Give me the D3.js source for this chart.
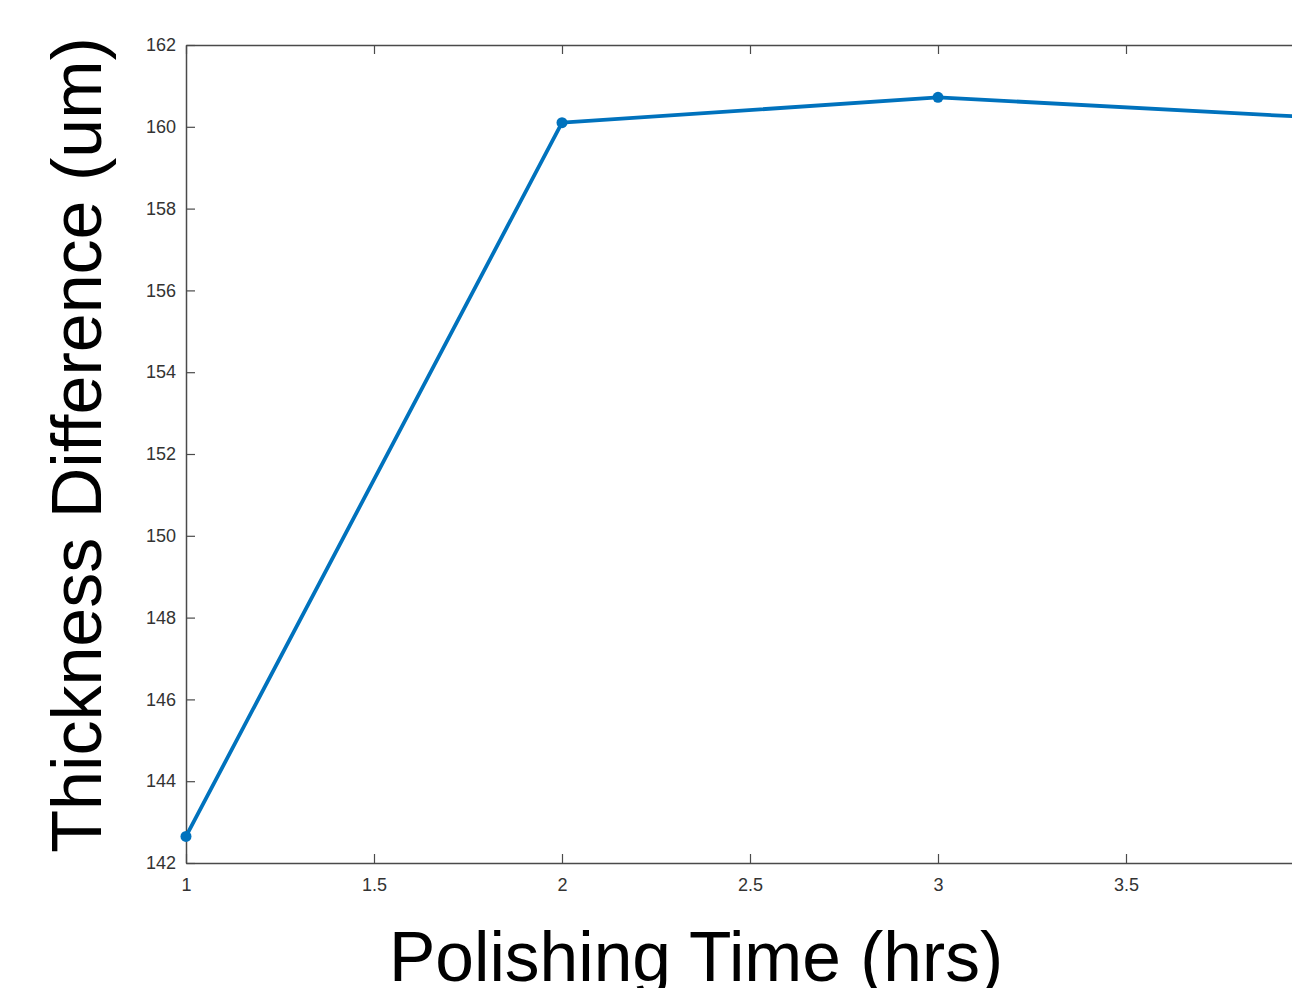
<!DOCTYPE html>
<html>
<head>
<meta charset="utf-8">
<script src="https://cdn.jsdelivr.net/npm/d3@7"></script>
<style>
  html, body { margin: 0; padding: 0; background: #fff; overflow: hidden; }
  svg { display: block; }
</style>
</head>
<body>
<svg id="chart" width="1292" height="988"></svg>
<script>
const hours = [1, 2, 3, 4];
const thickness = [142.65, 160.1, 160.72, 160.23];
const xTicks = [1, 1.5, 2, 2.5, 3, 3.5];
const yTicks = [142, 144, 146, 148, 150, 152, 154, 156, 158, 160, 162];
const xLabel = "Polishing Time (hrs)";
const yLabel = "Thickness Difference (um)";

const svg = d3.select("#chart");
const plotLeft = 186, plotRight = 1314, plotTop = 45, plotBottom = 863;

const x = d3.scaleLinear().domain([1, 4]).range([plotLeft, plotRight]);
const y = d3.scaleLinear().domain([142, 162]).range([plotBottom, plotTop]);

const axisColor = "#4a4a4a";
const textColor = "#333";

function styleAxis(g) {
  g.select(".domain").attr("stroke", axisColor).attr("stroke-width", 1.5);
  g.selectAll(".tick line").attr("stroke", axisColor).attr("stroke-width", 1.2);
  g.selectAll(".tick text").attr("fill", textColor)
    .style("font-family", "'Liberation Sans', Arial, sans-serif").style("font-size", "18px");
}

svg.append("g").attr("transform", `translate(0,${plotBottom})`)
  .call(d3.axisBottom(x).tickValues(xTicks).tickFormat(d3.format("")).tickSize(-9).tickSizeOuter(0).tickPadding(15))
  .call(styleAxis);
svg.append("g").attr("transform", `translate(0,${plotTop})`)
  .call(d3.axisTop(x).tickValues(xTicks).tickFormat("").tickSize(-9).tickSizeOuter(0))
  .call(styleAxis);
svg.append("g").attr("transform", `translate(${plotLeft},0)`)
  .call(d3.axisLeft(y).tickValues(yTicks).tickFormat(d3.format("d")).tickSize(-9).tickSizeOuter(0).tickPadding(10))
  .call(styleAxis);

const data = hours.map((h, i) => ({ h, v: thickness[i] }));
const lineColor = "#0072BD";

svg.append("path").datum(data)
  .attr("fill", "none").attr("stroke", lineColor).attr("stroke-width", 3.8)
  .attr("stroke-linejoin", "round")
  .attr("d", d3.line().x(d => x(d.h)).y(d => y(d.v)));

svg.append("g").selectAll("circle").data(data).join("circle")
  .attr("cx", d => x(d.h)).attr("cy", d => y(d.v)).attr("r", 5.5)
  .attr("fill", lineColor);

svg.append("text")
  .attr("x", 696).attr("y", 981)
  .attr("text-anchor", "middle")
  .style("font-family", "'Liberation Sans', Arial, sans-serif")
  .style("font-size", "69.5px").attr("fill", "#000")
  .text(xLabel);

svg.append("text")
  .attr("transform", `translate(101,445) rotate(-90)`)
  .attr("text-anchor", "middle")
  .style("font-family", "'Liberation Sans', Arial, sans-serif")
  .style("font-size", "70px").attr("fill", "#000")
  .text(yLabel);
</script>
</body>
</html>
